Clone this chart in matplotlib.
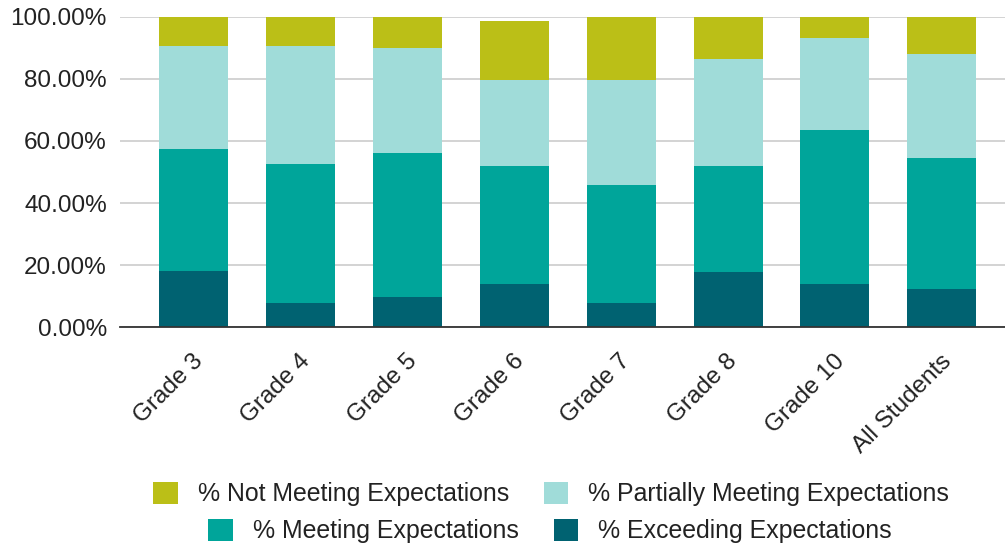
import matplotlib
matplotlib.use("Agg")
import matplotlib.pyplot as plt
import matplotlib.transforms as mtransforms
from matplotlib.patches import Patch
import numpy as np

plt.rcParams['font.family'] = ['Liberation Sans', 'DejaVu Sans']

categories = ["Grade 3", "Grade 4", "Grade 5", "Grade 6", "Grade 7", "Grade 8", "Grade 10", "All Students"]
exceeding = [18.0, 7.7, 9.8, 13.8, 7.7, 17.9, 13.8, 12.4]
meeting = [39.4, 45.0, 46.2, 38.1, 38.1, 34.0, 49.7, 42.2]
partially = [33.3, 38.0, 34.0, 27.8, 33.9, 34.6, 29.8, 33.4]
not_meeting = [9.3, 9.3, 10.0, 19.0, 20.3, 13.5, 6.7, 12.0]

series_names = ["% Not Meeting Expectations", "% Partially Meeting Expectations",
                "% Meeting Expectations", "% Exceeding Expectations"]
colors = {"% Exceeding Expectations": "#006271",
          "% Meeting Expectations": "#00a59a",
          "% Partially Meeting Expectations": "#a0dcd9",
          "% Not Meeting Expectations": "#bbbf17"}

W, H = 1005, 550
fig = plt.figure(figsize=(W / 100, H / 100), dpi=100)
ax = fig.add_axes([120 / W, (H - 327.3) / H, (1005 - 120) / W, (327.3 - 16.7) / H])

x = np.arange(len(categories))
bw = 0.645
stack = [("% Exceeding Expectations", exceeding), ("% Meeting Expectations", meeting),
         ("% Partially Meeting Expectations", partially), ("% Not Meeting Expectations", not_meeting)]
bottom = np.zeros(len(categories))
for name, vals in stack:
    v = np.array(vals)
    ax.bar(x, v, bw, bottom=bottom, color=colors[name], linewidth=0, zorder=3)
    bottom += v

ax.set_xlim(-0.688, 7.591)
ax.set_ylim(0, 100)
ax.set_yticks([0, 20, 40, 60, 80, 100])
ax.set_yticklabels([f"{t:.2f}%" for t in [0, 20, 40, 60, 80, 100]])
ax.yaxis.grid(True, color="#cccccc", linewidth=1.2, zorder=0)
ax.set_axisbelow(True)
for s in ["top", "right", "left"]:
    ax.spines[s].set_visible(False)
ax.spines["bottom"].set_color("#333333")
ax.spines["bottom"].set_linewidth(1.3)
ax.spines["bottom"].set_zorder(4)
ax.tick_params(axis="y", length=0, pad=9.5, labelsize=17.5, labelcolor="#222222")
ax.tick_params(axis="x", length=0, pad=22, labelsize=17.5, labelcolor="#222222")
ax.set_xticks(x)
ax.set_xticklabels(categories, rotation=45, ha="right", va="center", rotation_mode="anchor")
offset = mtransforms.ScaledTranslation(6 / 100, 0, fig.dpi_scale_trans)
for lbl in ax.get_xticklabels():
    lbl.set_transform(lbl.get_transform() + offset)

fs = 17.9
row1 = [Patch(facecolor=colors[n], edgecolor="none") for n in series_names[:2]]
row2 = [Patch(facecolor=colors[n], edgecolor="none") for n in series_names[2:]]
common = dict(loc="center", ncol=2, frameon=False, fontsize=fs, handlelength=1.0,
              handleheight=0.97, handletextpad=0.8, columnspacing=1.4, borderpad=0,
              borderaxespad=0, labelcolor="#222222")
leg1 = fig.legend(row1, series_names[:2], bbox_to_anchor=(551 / W, 1 - 494 / H), **common)
leg2 = fig.legend(row2, series_names[2:], bbox_to_anchor=(550 / W, 1 - 531 / H), **common)

fig.savefig("out.png", dpi=100)
